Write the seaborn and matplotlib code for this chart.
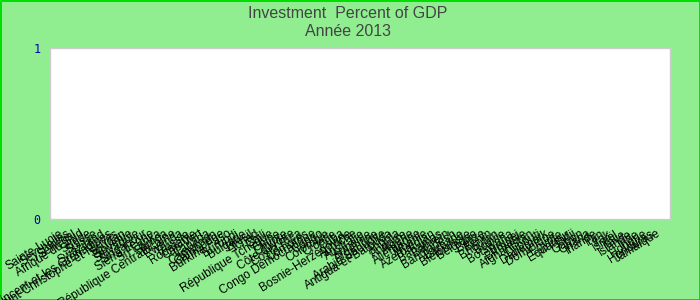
import matplotlib
matplotlib.use("Agg")
import matplotlib.pyplot as plt
import seaborn as sns
import pandas as pd

title_line1 = "Investment  Percent of GDP"
title_line2 = "Année 2013"

countries = [
    "Sainte-Lucie", "Seychelles", "Sénégal", "Afrique du Sud", "Suède", "Suisse",
    "Swaziland", "Saint-Vincent-et-les Grenadines", "Saint-Christophe-et-Niévès",
    "Soudan", "Slovénie", "Slovaquie", "Singapour", "Sierra Leone", "Sri Lanka",
    "Samoa", "République Centrafricaine", "Rwanda", "Russie", "Roumanie",
    "Cap-Vert", "Canada", "Cameroun", "Cambodge", "Burkina Faso", "Burundi",
    "Bulgarie", "Brésil", "Tchad", "Chili", "République Tchèque", "Chine",
    "Chypre", "Côte d'Ivoire", "Costa Rica", "Comores", "Congo Démocratique",
    "Congo", "Colombie", "Croatie", "Cuba", "Bosnie-Herzégovine", "Autriche",
    "Australie", "Arménie", "Argentine", "Arabie Saoudite", "Antigua-et-Barbuda",
    "Angola", "Andorre", "Algérie", "Allemagne", "Albanie", "Azerbaïdjan",
    "Bahamas", "Bahreïn", "Bangladesh", "Barbade", "Biélorussie", "Belgique",
    "Belize", "Bénin", "Bhoutan", "Bolivie", "Botswana", "Brunei", "Birmanie",
    "Afghanistan", "Djibouti", "Danemark", "Dominique", "Égypte", "Équateur",
    "Fidji", "Gabon", "Ghana", "Irlande", "Iran", "Irak", "Israël", "Italie",
    "Islande", "Inde", "Hongrie", "Honduras", "Jamaïque",
]
values = [0.0] * len(countries)

df = pd.DataFrame({"country": countries, "value": values})

sns.set_theme(style="white")
plt.rcParams["font.family"] = ["Liberation Sans", "DejaVu Sans"]

fig = plt.figure(figsize=(7, 3), dpi=100)
fig.patch.set_facecolor("#90EE90")
fig.patch.set_edgecolor("#00E000")
fig.patch.set_linewidth(2)

ax = fig.add_axes([50 / 700, 1 - 219 / 300, 620 / 700, 171 / 300])
ax.set_facecolor("white")
sns.barplot(data=df, x="country", y="value", color="#4472C4", ax=ax)

n = len(countries)
f0, f1 = (62 - 50) / 620, (660 - 50) / 620
span = (n - 1) / (f1 - f0)
a = -f0 * span
ax.set_xlim(a, a + span)
ax.set_ylim(0, 1)
ax.set_yticks([0, 1])
ax.set_yticklabels(["0", "1"], color="#0000B0", fontsize=8.5, family="DejaVu Sans Mono")
ax.set_xticks(range(n))
ax.set_xticklabels(countries, rotation=32, rotation_mode="anchor",
                   ha="right", va="center", fontsize=8.5, color="#000000")
ax.tick_params(axis="both", length=0)
ax.tick_params(axis="y", pad=7)
ax.tick_params(axis="x", pad=10)
ax.set_xlabel("")
ax.set_ylabel("")
for s in ax.spines.values():
    s.set_color("#cccccc")
    s.set_linewidth(1)

fig.text(348 / 700, 1 - 13 / 300, title_line1, ha="center", va="center",
         fontsize=11.5, color="#444444", family=["Liberation Sans Narrow", "Liberation Sans", "DejaVu Sans"])
fig.text(348 / 700, 1 - 32 / 300, title_line2, ha="center", va="center",
         fontsize=11.5, color="#444444", family=["Liberation Sans Narrow", "Liberation Sans", "DejaVu Sans"])

fig.savefig("out.png", dpi=100, facecolor=fig.get_facecolor(), edgecolor=fig.get_edgecolor())
